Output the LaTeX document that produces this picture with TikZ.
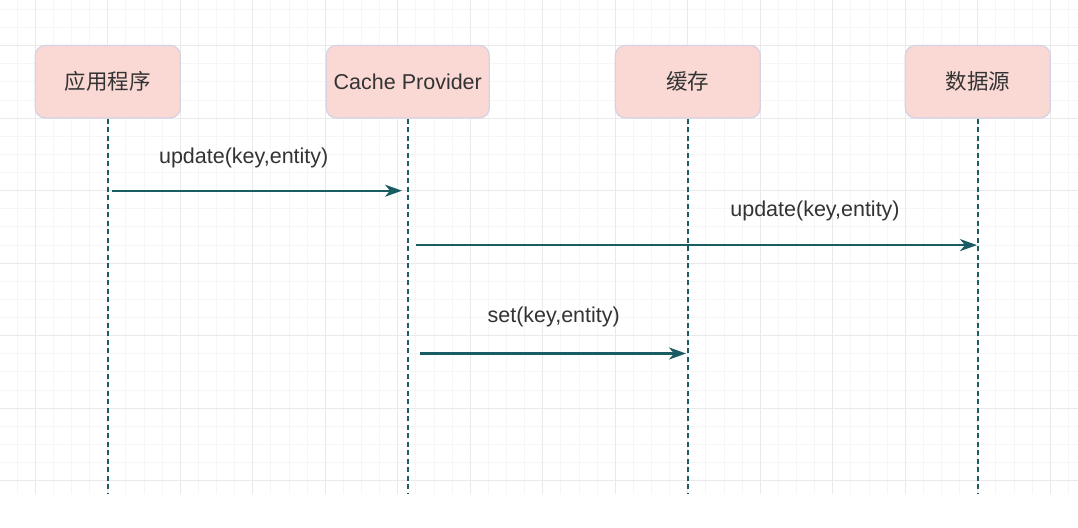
\documentclass[tikz,border=0pt]{standalone}
\usepackage{fontspec}
\setmainfont{Liberation Sans}
\newfontfamily\cjk{Noto Sans CJK SC}
\usetikzlibrary{arrows.meta}
\definecolor{boxfill}{HTML}{FAD9D5}
\definecolor{boxline}{HTML}{D6D2E6}
\definecolor{teal}{HTML}{1A5C63}
\definecolor{txt}{HTML}{333333}
\definecolor{gridmajor}{HTML}{EAEAEA}
\definecolor{gridminor}{HTML}{F6F6F6}
\tikzset{
  box/.style={draw=boxline, line width=1.2pt, fill=boxfill, rounded corners=10pt,
    minimum height=72.5pt, text=txt, font=\fontsize{21.5}{26}\selectfont, inner sep=0pt},
  lifeline/.style={draw=teal, line width=1.8pt, dash pattern=on 5pt off 3.5pt},
  msg/.style={draw=teal, line width=2.2pt, -{Stealth[length=17pt,width=12pt,inset=5pt]}},
  lbl/.style={text=txt, font=\fontsize{21.5}{26}\selectfont, anchor=base, inner sep=0pt}
}
\begin{document}
\begin{tikzpicture}[x=1pt,y=-1pt]
\useasboundingbox (0,0) rectangle (1078,527);
\fill[white] (0,0) rectangle (1078,527);
% grid
\begin{scope}
\clip (0,0) rectangle (1078,494);
\foreach \i in {-1,...,58} {
  \draw[gridminor, line width=1pt] ({35.3+18.125*\i},0) -- ({35.3+18.125*\i},494);
}
\foreach \i in {-2,...,25} {
  \draw[gridminor, line width=1pt] (0,{45.7+18.125*\i}) -- (1078,{45.7+18.125*\i});
}
\foreach \i in {-1,...,15} {
  \draw[gridmajor, line width=1.3pt] ({35.3+72.5*\i},0) -- ({35.3+72.5*\i},494);
}
\foreach \i in {-1,...,6} {
  \draw[gridmajor, line width=1.3pt] (0,{45.7+72.5*\i}) -- (1078,{45.7+72.5*\i});
}
\end{scope}
% participants
\node[box, minimum width=145pt] (app) at (107.8,81.7) {\cjk 应用程序};
\node[box, minimum width=163pt] (prov) at (407.8,81.7) {Cache Provider};
\node[box, minimum width=145pt] (cache) at (687.8,81.7) {\cjk 缓存};
\node[box, minimum width=145pt] (src) at (977.8,81.7) {\cjk 数据源};
% lifeline ends
\coordinate (appE) at (107.8,494);
\coordinate (provE) at (407.8,494);
\coordinate (cacheE) at (687.8,494);
\coordinate (srcE) at (977.8,494);
\draw[lifeline] (app.south) -- (appE);
\draw[lifeline] (prov.south) -- (provE);
\draw[lifeline] (cache.south) -- (cacheE);
\draw[lifeline] (src.south) -- (srcE);
% messages
\coordinate (m1s) at (112,190.7);
\coordinate (m1e) at (402,190.7);
\coordinate (m2s) at (416,245.1);
\coordinate (m2e) at (977,245.1);
\coordinate (m3s) at (420,353.5);
\coordinate (m3e) at (686,353.5);
\draw[msg] (m1s) -- (m1e);
\draw[msg] (m2s) -- (m2e);
\draw[msg] (m3s) -- (m3e);
\node[lbl] (l1) at (243.7,163.3) {update(key,entity)};
\node[lbl] (l2) at (815,216.8) {update(key,entity)};
\node[lbl] (l3) at (553.7,322.7) {set(key,entity)};
\end{tikzpicture}
\end{document}
